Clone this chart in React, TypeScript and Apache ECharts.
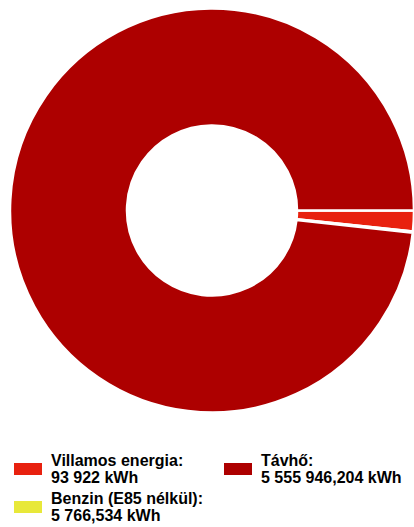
import React, { useEffect, useRef } from "react";
import * as echarts from "echarts";

const categories = ["Villamos energia", "Benzin (E85 nélkül)", "Távhő"];
const values = [93922, 5766.534, 5555946.204];
const valueLabels = ["93 922", "5 766,534", "5 555 946,204"];
const unit = "kWh";
const colors = ["#e8210f", "#e8e83a", "#ad0000"];

export default function App() {
  const ref = useRef<HTMLDivElement>(null);
  useEffect(() => {
    if (!ref.current) return;
    const chart = echarts.init(ref.current, null, { renderer: "svg" });
    const fmt = (name: string) => {
      const i = categories.indexOf(name);
      return `${name}:\n${valueLabels[i]} ${unit}`;
    };
    const legendCommon = {
      orient: "vertical" as const,
      itemWidth: 30,
      itemHeight: 14,
      itemGap: 3,
      padding: 0,
      icon: "rect",
      selectedMode: false,
      formatter: fmt,
      textStyle: {
        fontFamily: "Liberation Sans, Arial, sans-serif",
        fontWeight: "bold" as const,
        fontSize: 16,
        lineHeight: 17,
        color: "#000",
        padding: [0, 0, 0, 3],
      },
    };
    chart.setOption({
      animation: false,
      color: colors,
      legend: [
        { ...legendCommon, left: 12, top: 452, data: [categories[0]] },
        { ...legendCommon, left: 12, top: 490, data: [categories[1]] },
        { ...legendCommon, left: 222, top: 452, data: [categories[2]] },
      ],
      series: [
        {
          type: "pie",
          center: [212, 210.5],
          radius: [85, 202],
          startAngle: 0,
          clockwise: true,
          label: { show: false },
          labelLine: { show: false },
          silent: true,
          itemStyle: { borderColor: "#fff", borderWidth: 2.5 },
          data: categories.map((c, i) => ({
            name: c,
            value: values[i],
            itemStyle: { color: colors[i] },
          })),
        },
      ],
    });
    return () => chart.dispose();
  }, []);
  return (
    <div
      ref={ref}
      style={{ position: "absolute", left: 0, top: 0, width: 414, height: 527 }}
    />
  );
}
